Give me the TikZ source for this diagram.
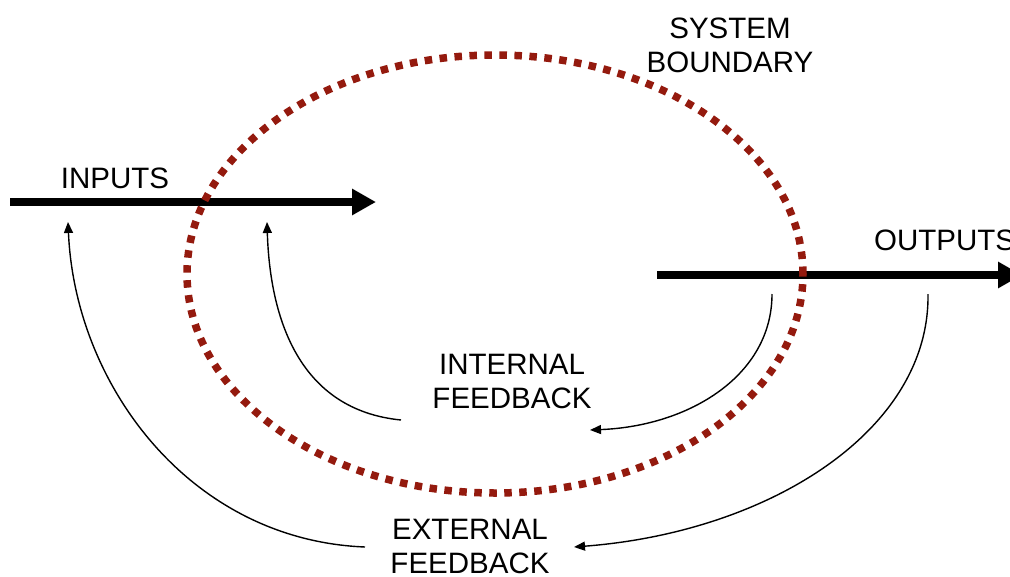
\documentclass[tikz,border=0pt]{standalone}
\usepackage{fontspec}
\setmainfont{Liberation Sans}
\usetikzlibrary{arrows.meta}
\definecolor{sbred}{HTML}{941A0E}
\tikzset{
  flowline/.style={line width=8pt, -{Triangle[length=24pt, width=25pt]}},
  fbline/.style={line width=1.4pt, -{Triangle[length=11pt, width=9pt]}},
  lbl/.style={font=\fontsize{29.5}{34}\selectfont, align=center, inner sep=0pt},
  boundary/.style={sbred, line width=7.5pt, dash pattern=on 7.5pt off 7.5pt}
}
\begin{document}
\begin{tikzpicture}[x=1pt, y=-1pt]
  \useasboundingbox (0,0) rectangle (1010,576);
  % main flows
  \coordinate (inA) at (10,202);
  \coordinate (inB) at (376,202);
  \coordinate (outA) at (657,275);
  \coordinate (outB) at (1022,275);
  \draw[flowline] (inA) -- (inB);
  \draw[flowline] (outA) -- (outB);
  % labels
  \node[lbl] (inputs) at (115,178) {INPUTS};
  \node[lbl, anchor=west] (outputs) at (874,240) {OUTPUTS};
  \node[lbl] (sysb) at (730,45) {SYSTEM\\BOUNDARY};
  \node[lbl] (intfb) at (512,381) {INTERNAL\\FEEDBACK};
  \node[lbl] (extfb) at (470,546) {EXTERNAL\\FEEDBACK};
  % feedback loops
  \coordinate (intL) at (267,222);
  \coordinate (intR) at (772,294);
  \coordinate (extL) at (68,222);
  \coordinate (extR) at (928,294);
  \coordinate (intA) at (401,420);
  \coordinate (intB) at (590,430);
  \coordinate (extA) at (365,547);
  \coordinate (extB) at (574,547);
  \draw[fbline] (intA) .. controls (300,410) and (270,320) .. (intL);
  \draw[fbline] (intR) .. controls (772,375) and (690,426) .. (intB);
  \draw[fbline] (extA) .. controls (190,540) and (75,385) .. (extL);
  \draw[fbline] (extR) .. controls (930,430) and (770,532) .. (extB);
  % system boundary
  \draw[boundary] (495,274) ellipse [x radius=308pt, y radius=219pt];
\end{tikzpicture}
\end{document}
